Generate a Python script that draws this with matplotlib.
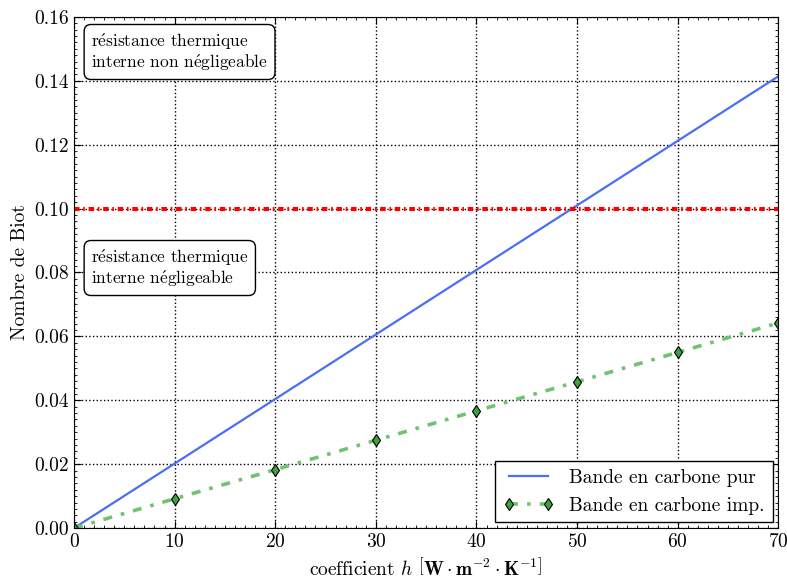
import numpy as np
import matplotlib
matplotlib.use("Agg")
import matplotlib.pyplot as plt
from matplotlib.ticker import MultipleLocator

plt.rcParams['font.family'] = ['cmr10', 'DejaVu Serif']
plt.rcParams['mathtext.fontset'] = 'cm'
plt.rcParams['axes.formatter.use_mathtext'] = True
plt.rcParams['axes.unicode_minus'] = False

# h coefficient [W m-2 K-1]
h = [0, 10, 20, 30, 40, 50, 60, 70]
# Biot number, pure carbon band
bi_pur = [0.0, 0.0202, 0.0404, 0.0606, 0.0808, 0.1010, 0.1212, 0.1414]
# Biot number, impregnated carbon band
bi_imp = [0.0, 0.0092, 0.0183, 0.0275, 0.0367, 0.0458, 0.0550, 0.0642]
bi_limit = 0.1

e_acc = r'$\acute{\mathrm{e}}$'

fig = plt.figure(figsize=(7.87, 5.81), dpi=100)
ax = fig.add_axes([0.094, 0.091, 0.895, 0.88])

ax.plot(h, bi_pur, color='#4a6ef5', lw=1.6, label='Bande en carbone pur')
ax.plot(h, bi_imp, color='#70c470', lw=2.6, dashes=(2.5, 2.5, 1, 2.5), marker='d', ms=6,
        mfc='#3fa03f', mec='black', mew=0.8, label='Bande en carbone imp.')
ax.axhline(bi_limit, color='red', lw=3, dashes=(1.3, 0.9, 0.4, 0.9))

ax.set_xlim(0, 70)
ax.set_ylim(0, 0.16)
ax.xaxis.set_major_locator(MultipleLocator(10))
ax.yaxis.set_major_locator(MultipleLocator(0.02))
ax.xaxis.set_minor_locator(MultipleLocator(1))
ax.yaxis.set_minor_locator(MultipleLocator(0.002))
ax.yaxis.set_major_formatter(plt.FuncFormatter(lambda v, p: f'{v:.2f}'))
ax.tick_params(which='both', direction='in', top=True, right=True, labelsize=14)
ax.tick_params(which='major', length=5)
ax.tick_params(which='minor', length=2)
ax.grid(True, color='black', ls=':', lw=1)

ax.set_xlabel(r'coefficient $h$ $\left[\mathbf{W}\cdot\mathbf{m}^{-2}\cdot\mathbf{K}^{-1}\right]$', fontsize=14)
ax.set_ylabel('Nombre de Biot', fontsize=14)

box = dict(boxstyle='round,pad=0.4', fc='white', ec='black', lw=1)
ax.text(1.7, 0.149, 'r' + e_acc + 'sistance thermique\ninterne non n' + e_acc + 'gligeable',
        fontsize=12.5, va='center', ha='left', bbox=box, linespacing=1.0)
ax.text(1.7, 0.0814, 'r' + e_acc + 'sistance thermique\ninterne n' + e_acc + 'gligeable',
        fontsize=12.5, va='center', ha='left', bbox=box, linespacing=1.0)

leg = ax.legend(loc='lower right', fontsize=14, fancybox=False, framealpha=1,
                edgecolor='black', handlelength=2.6, numpoints=2, borderaxespad=0.3)
leg.get_frame().set_linewidth(1)

fig.savefig('out.png', dpi=100)
